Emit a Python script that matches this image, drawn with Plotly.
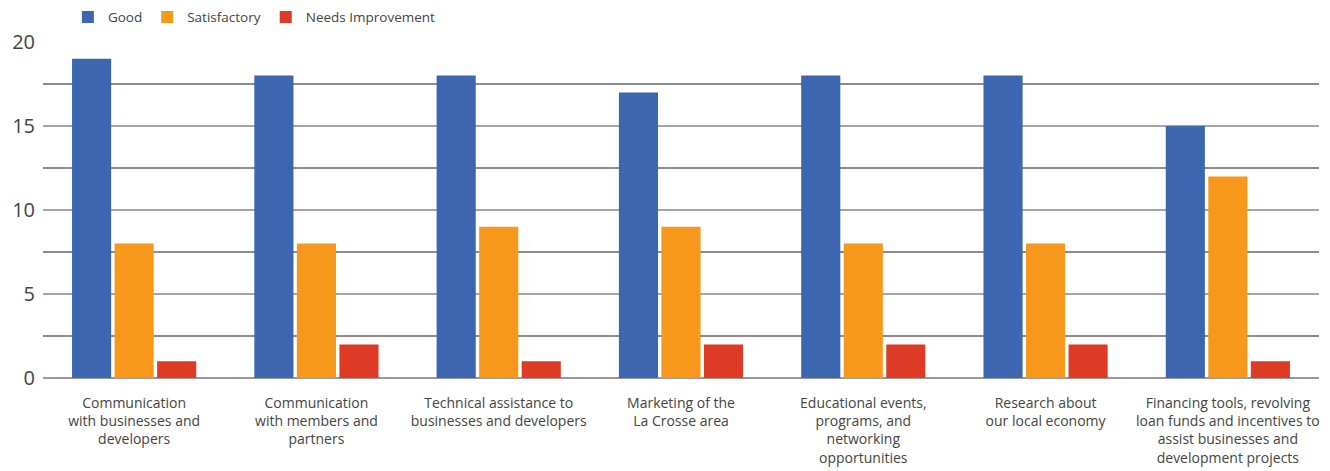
import plotly.graph_objects as go

categories = [
    "Communication<br>with businesses and<br>developers",
    "Communication<br>with members and<br>partners",
    "Technical assistance to<br>businesses and developers",
    "Marketing of the<br>La Crosse area",
    "Educational events,<br>programs, and<br>networking<br>opportunities",
    "Research about<br>our local economy",
    "Financing tools, revolving<br>loan funds and incentives to<br>assist businesses and<br>development projects",
]
good = [19, 18, 18, 17, 18, 18, 15]
satisfactory = [8, 8, 9, 9, 8, 8, 12]
needs_improvement = [1, 2, 1, 2, 2, 2, 1]

series = [
    ("Good", good, "#3c67b0"),
    ("Satisfactory", satisfactory, "#f7981d"),
    ("Needs Improvement", needs_improvement, "#dd3b26"),
]

font_family = "'Open Sans', 'Noto Sans', sans-serif"

fig = go.Figure()
for name, vals, color in series:
    fig.add_trace(go.Bar(x=categories, y=vals, name=name, marker=dict(color=color, line=dict(width=0))))

fig.update_layout(
    width=1330, height=471,
    margin=dict(l=43, r=11, t=42, b=93, autoexpand=False),
    barmode="group",
    bargap=0.30,
    bargroupgap=0.08,
    plot_bgcolor="white",
    paper_bgcolor="white",
    font=dict(family=font_family, color="#444444"),
    legend=dict(
        orientation="h", x=0.0195, xanchor="left", y=1.074, yanchor="middle",
        font=dict(size=13.5, color="#444444"),
        traceorder="normal",
    ),
    showlegend=True,
)
fig.update_xaxes(
    tickfont=dict(size=14, color="#444444"),
    showline=False, ticks="", showgrid=False, automargin=False,
    ticklabelstandoff=15,
)
fig.update_yaxes(
    range=[0, 20], dtick=5, tick0=0,
    tickfont=dict(size=20, color="#444444"),
    showgrid=True, gridcolor="#a6a6a6", gridwidth=1.5,
    minor=dict(dtick=2.5, showgrid=True, gridcolor="#8c8c8c", gridwidth=1.5),
    zeroline=True, zerolinecolor="#999999", zerolinewidth=1.5,
    showline=False, ticks="", ticklabelstandoff=7, automargin=False,
)
fig.write_html(
    "out.html",
    config={"displayModeBar": False},
    post_script="document.body.style.margin='0px';",
)
